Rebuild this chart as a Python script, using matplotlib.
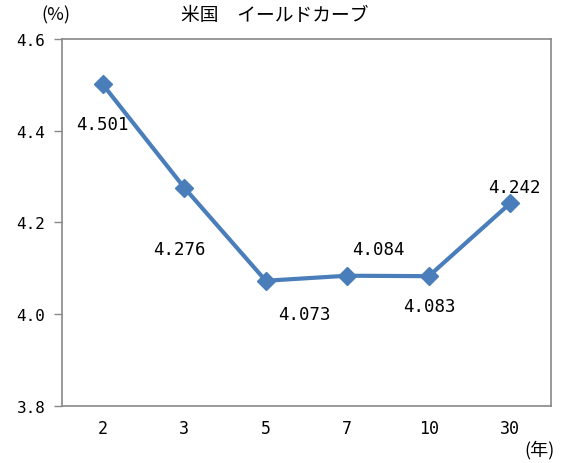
import matplotlib
matplotlib.use("Agg")
import matplotlib.pyplot as plt

plt.rcParams['font.family'] = ['Noto Sans CJK JP', 'DejaVu Sans']

categories = ["2", "3", "5", "7", "10", "30"]
values = [4.501, 4.276, 4.073, 4.084, 4.083, 4.242]
value_labels = ["4.501", "4.276", "4.073", "4.084", "4.083", "4.242"]
yticks = [3.8, 4.0, 4.2, 4.4, 4.6]
ytick_labels = ["3.8", "4.0", "4.2", "4.4", "4.6"]
label_offsets = [(0, -40), (-5, -61), (39, -33), (31, 27), (1, -30), (4, 16)]

num_font = ['DejaVu Sans Mono']

fig = plt.figure(figsize=(5.72, 4.64), dpi=100)
ax = fig.add_axes([62/572, 1-407/464, (551-62)/572, (407-40)/464])

x = list(range(len(categories)))
color = '#4a7ebb'
ax.plot(x, values, color=color, lw=3.0, marker='D', markersize=9, zorder=3)

for xi, v, lab, off in zip(x, values, value_labels, label_offsets):
    ax.annotate(lab, (xi, v), xytext=off, textcoords='offset pixels',
                ha='center', va='center', fontsize=12.5, color='black',
                family=num_font)

ax.set_xlim(-0.5, len(categories) - 0.5)
ax.set_ylim(3.8, 4.6)
ax.set_yticks(yticks)
ax.set_yticklabels(ytick_labels, fontsize=11.5, family=num_font)
ax.set_xticks(x)
ax.set_xticklabels(categories, fontsize=12, family=num_font)
ax.tick_params(axis='x', length=0, pad=9)
ax.tick_params(axis='y', length=6, width=1, color='#888888', pad=6)
for s in ax.spines.values():
    s.set_color('#888888')
    s.set_linewidth(1.2)

fig.text(56/572, 1-15/464, "(%)", fontsize=13, ha='center', va='center')
fig.text(275/572, 1-15/464, "米国　イールドカーブ", fontsize=13.5, ha='center', va='center')
fig.text(540/572, 1-450/464, "(年)", fontsize=13, ha='center', va='center')

fig.savefig("out.png", dpi=100)
